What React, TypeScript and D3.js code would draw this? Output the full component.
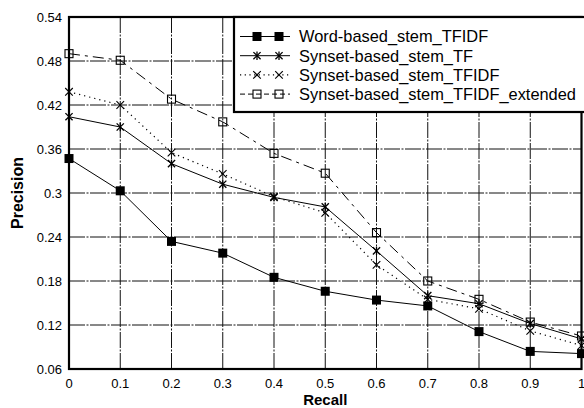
import React from "react";
import * as d3 from "d3";

const recall = [0, 0.1, 0.2, 0.3, 0.4, 0.5, 0.6, 0.7, 0.8, 0.9, 1];
const wordTFIDF = [0.347, 0.303, 0.234, 0.218, 0.185, 0.166, 0.154, 0.146, 0.111, 0.084, 0.081];
const synsetTF = [0.404, 0.390, 0.340, 0.312, 0.294, 0.281, 0.221, 0.160, 0.149, 0.122, 0.101];
const synsetTFIDF = [0.438, 0.420, 0.355, 0.326, 0.295, 0.273, 0.202, 0.155, 0.142, 0.112, 0.092];
const synsetExt = [0.490, 0.481, 0.428, 0.397, 0.354, 0.327, 0.246, 0.180, 0.155, 0.124, 0.105];
const seriesNames = [
  "Word-based_stem_TFIDF",
  "Synset-based_stem_TF",
  "Synset-based_stem_TFIDF",
  "Synset-based_stem_TFIDF_extended",
];
const yTicks = [0.06, 0.12, 0.18, 0.24, 0.3, 0.36, 0.42, 0.48, 0.54];
const yTickLabels = ["0.06", "0.12", "0.18", "0.24", "0.3", "0.36", "0.42", "0.48", "0.54"];
const xTickLabels = ["0", "0.1", "0.2", "0.3", "0.4", "0.5", "0.6", "0.7", "0.8", "0.9", "1"];

const W = 584, H = 408;
const L = 69, R = 581.5, T = 17, B = 369;

type MarkerKind = "fsquare" | "star" | "x" | "osquare";

function Marker({ kind, x, y }: { kind: MarkerKind; x: number; y: number }) {
  if (kind === "fsquare") return <rect x={x - 4.5} y={y - 4.5} width={9} height={9} fill="#000" />;
  if (kind === "osquare")
    return <rect x={x - 4} y={y - 4} width={8} height={8} fill="none" stroke="#000" strokeWidth={1.1} />;
  if (kind === "x") {
    const s = 3.8;
    return (
      <g stroke="#000" strokeWidth={1.1}>
        <line x1={x - s} y1={y - s} x2={x + s} y2={y + s} />
        <line x1={x - s} y1={y + s} x2={x + s} y2={y - s} />
      </g>
    );
  }
  const s = 3.6;
  return (
    <g stroke="#000" strokeWidth={1.3}>
      <line x1={x - s} y1={y - s} x2={x + s} y2={y + s} />
      <line x1={x - s} y1={y + s} x2={x + s} y2={y - s} />
      <line x1={x} y1={y - s - 0.6} x2={x} y2={y + s + 0.6} />
    </g>
  );
}

export default function App() {
  const x = d3.scaleLinear().domain([0, 1]).range([L, R]);
  const y = d3.scaleLinear().domain([0.06, 0.54]).range([B, T]);

  const series = [
    { name: seriesNames[0], values: wordTFIDF, marker: "fsquare" as MarkerKind, dash: "none", legendDash: "none", width: 1 },
    { name: seriesNames[1], values: synsetTF, marker: "star" as MarkerKind, dash: "none", legendDash: "none", width: 1 },
    { name: seriesNames[2], values: synsetTFIDF, marker: "x" as MarkerKind, dash: "1.2 4", legendDash: "1.2 3.5", width: 1.2 },
    { name: seriesNames[3], values: synsetExt, marker: "osquare" as MarkerKind, dash: "11 5 3 5", legendDash: "5 3", width: 1 },
  ];

  const line = d3
    .line<number>()
    .x((_, i) => x(recall[i]))
    .y((d) => y(d));

  const font = "'Liberation Sans', Arial, sans-serif";

  return (
    <svg width={W} height={H} style={{ position: "absolute", left: 0, top: 0, background: "#fff" }}>
      <rect x={0} y={0} width={W} height={H} fill="#fff" />
      {/* grid */}
      <g stroke="#111" strokeWidth={1} strokeDasharray="16 1.5 2 1.5">
        {yTicks.slice(1, -1).map((t) => (
          <line key={"gy" + t} x1={L} x2={R} y1={y(t)} y2={y(t)} />
        ))}
        {recall.slice(1, -1).map((t) => (
          <line key={"gx" + t} x1={x(t)} x2={x(t)} y1={T} y2={B} />
        ))}
      </g>
      {/* series */}
      {series.map((s) => (
        <g key={s.name}>
          <path d={line(s.values) || ""} fill="none" stroke="#000" strokeWidth={s.width} strokeDasharray={s.dash} />
          {s.values.map((v, i) => (
            <Marker key={i} kind={s.marker} x={x(recall[i])} y={y(v)} />
          ))}
        </g>
      ))}
      {/* frame */}
      <rect x={L} y={T} width={R - L} height={B - T} fill="none" stroke="#000" strokeWidth={2.2} />
      {/* y tick labels */}
      <g fontFamily={font} fontSize={13} textAnchor="end" fill="#000">
        {yTicks.map((t, i) => (
          <text key={"yl" + t} x={62} y={y(t) + 4.6}>
            {yTickLabels[i]}
          </text>
        ))}
      </g>
      <g fontFamily={font} fontSize={13} textAnchor="middle" fill="#000">
        {recall.map((t, i) => (
          <text key={"xl" + t} x={x(t)} y={387.5}>
            {xTickLabels[i]}
          </text>
        ))}
      </g>
      <text x={(L + R) / 2} y={404.5} fontFamily={font} fontSize={15} fontWeight="bold" textAnchor="middle">
        Recall
      </text>
      <text
        transform={`translate(23, ${(T + B) / 2}) rotate(-90)`}
        fontFamily={font}
        fontSize={16}
        fontWeight="bold"
        textAnchor="middle"
      >
        Precision
      </text>
      {/* legend */}
      <g>
        <rect x={234} y={17} width={380} height={95} fill="#fff" stroke="#000" strokeWidth={2.2} />
        {series.map((s, i) => {
          const cy = 36.5 + i * 19.2;
          return (
            <g key={"lg" + s.name}>
              <line x1={240} x2={290} y1={cy} y2={cy} stroke="#000" strokeWidth={s.width} strokeDasharray={s.legendDash} />
              <Marker kind={s.marker} x={257} y={cy} />
              <Marker kind={s.marker} x={279} y={cy} />
              <text x={299} y={cy + 5.9} fontFamily={font} fontSize={16.4} fill="#000">
                {s.name}
              </text>
            </g>
          );
        })}
      </g>
    </svg>
  );
}
